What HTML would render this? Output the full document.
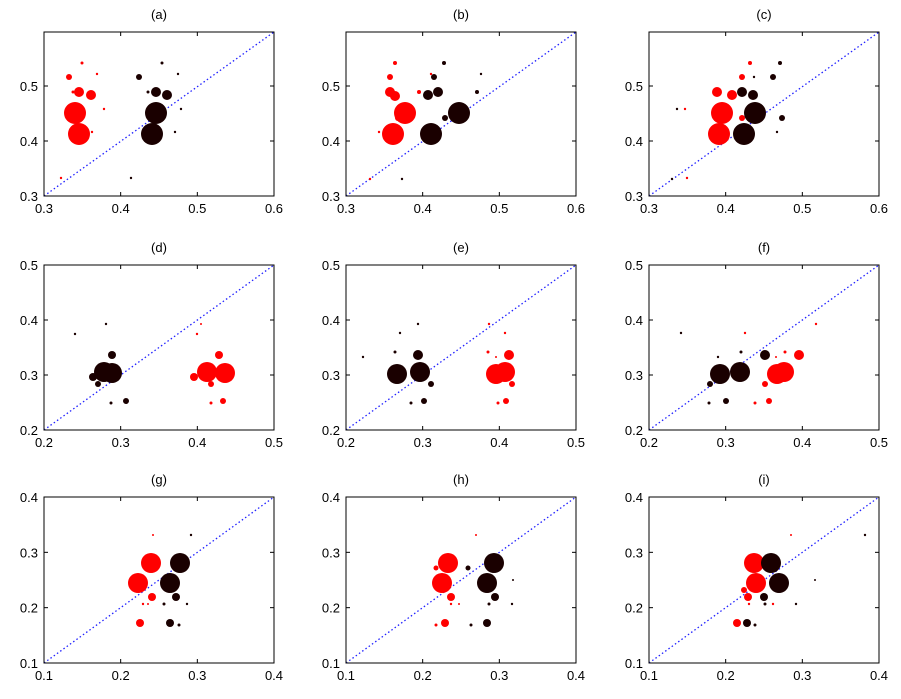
<!DOCTYPE html>
<html><head><meta charset="utf-8"><style>
html,body{margin:0;padding:0;background:#fff}
svg text{font-family:"Liberation Sans",sans-serif;font-size:13px;fill:#000}
</style></head><body>
<svg id="s" xmlns="http://www.w3.org/2000/svg" width="901" height="694" viewBox="0 0 901 694"></svg>
<script>
var s=document.getElementById('s'),h='';
var cols=[44,346,649],rows=[[32,164,0.3],[265,165,0.2],[497,166,0.1]],W=230;
var names='abcdefghi';
rows.forEach(function(r,ri){cols.forEach(function(x0,ci){
 var y0=r[0],H=r[1],v0=r[2],b=y0+H;
 var n=names[ri*3+ci];
 h+='<text x="'+(x0+W/2)+'" y="'+(y0-13)+'" text-anchor="middle">('+n+')</text>';
 h+='<line x1="'+x0+'" y1="'+b+'" x2="'+(x0+W)+'" y2="'+y0+'" stroke="#2020ff" stroke-width="1.3" stroke-dasharray="1.5,2.5"/>';
 h+='<rect x="'+x0+'" y="'+y0+'" width="'+W+'" height="'+H+'" fill="none" stroke="#000" stroke-width="1"/>';
 var ystep=ri==0?55:H/3;
 for(var i=0;i<4;i++){
  var tx=x0+W*i/3, ty=b-ystep*i, lab=(v0+0.1*i).toFixed(1);
  h+='<line x1="'+tx+'" y1="'+b+'" x2="'+tx+'" y2="'+(b-4)+'" stroke="#000"/><line x1="'+tx+'" y1="'+y0+'" x2="'+tx+'" y2="'+(y0+4)+'" stroke="#000"/>';
  h+='<text x="'+tx+'" y="'+(b+17)+'" text-anchor="middle">'+lab+'</text>';
  if(ty>=y0+1||ri>0){
   h+='<line x1="'+x0+'" y1="'+ty+'" x2="'+(x0+4)+'" y2="'+ty+'" stroke="#000"/><line x1="'+(x0+W)+'" y1="'+ty+'" x2="'+(x0+W-4)+'" y2="'+ty+'" stroke="#000"/>';
   h+='<text x="'+(x0-6)+'" y="'+(ty+5)+'" text-anchor="end">'+lab+'</text>';
  }
 }
});});
var R=[
[69,77,3],[82,63,1.5],[97,74,1.2],[79,92,5],[91,95,5],[75,113,11],[79,134,11],[73,92,1.5],[104,109,1.2],[92,132,1.2],[61,178,1.2],
[395,63,2],[390,77,3],[390,92,5],[395,96,5],[405,113,11],[393,134,11],[379,132,1.2],[370,179,1.2],[419,92,2],[431,74,1.2],[398,118,3],
[750,63,2],[742,77,3],[717,92,5],[732,95,5],[722,113,11],[719,134,11],[742,118,3],[736,132,1.2],[685,109,1.2],[687,178,1.2],
[197,334,1.2],[201,324,1],[219,355,4],[194,377,4],[211,384,3],[207,372,10],[225,373,10],[211,403,1.5],[223,401,3],
[489,324,1.2],[505,333,1.2],[488,352,1.5],[496,357,1],[509,355,5],[496,374,10],[505,372,10],[512,384,3],[498,403,1.5],[506,401,3],
[816,324,1.2],[745,333,1.2],[776,357,1],[785,352,1.5],[799,355,5],[777,374,10],[784,372,10],[765,384,3],[755,403,1.5],[769,401,3],
[153,535,1],[151,563,10],[138,583,10],[152,597,4],[143,604,1.2],[148,604,1],[140,623,4],
[476,535,1],[448,563,10],[436,568,2.5],[442,583,10],[451,597,4],[451,604,1.2],[459,604,1],[445,623,4],[436,625,1.5],
[791,535,1],[754,563,10],[756,583,10],[744,590,3],[748,597,4],[749,604,1.2],[773,604,1.2],[737,623,4]];
var B=[
[139,77,3],[162,63,1.5],[178,74,1.2],[156,92,5],[167,95,5],[156,113,11],[152,134,11],[148,92,1.5],[181,109,1.2],[175,132,1.2],[131,178,1.2],
[444,63,2],[434,77,3],[428,95,5],[438,92,5],[459,113,11],[431,134,11],[445,118,3],[481,74,1.2],[477,92,2],[402,179,1.2],
[780,63,2],[754,77,1.2],[773,77,3],[742,92,5],[753,95,5],[755,113,11],[744,134,11],[782,118,3],[777,132,1.2],[677,109,1.2],[672,179,1.2],
[75,334,1.2],[106,324,1.2],[112,355,4],[93,377,4],[98,384,3],[104,372,10],[112,373,10],[111,403,1.5],[126,401,3],
[363,357,1.2],[400,333,1.2],[418,324,1.2],[395,352,1.5],[418,355,5],[397,374,10],[420,372,10],[431,384,3],[411,403,1.5],[424,401,3],
[681,333,1.2],[718,357,1.2],[741,352,1.5],[765,355,5],[720,374,10],[740,372,10],[710,384,3],[709,403,1.5],[726,401,3],
[191,535,1.2],[180,563,10],[170,583,10],[176,597,4],[164,604,1.5],[187,604,1.2],[170,623,4],[179,625,1.5],
[494,563,10],[468,568,2.5],[487,583,10],[513,580,1],[495,597,4],[489,604,1.5],[512,604,1.2],[487,623,4],[471,625,1.5],
[865,535,1.2],[771,563,10],[779,583,10],[815,580,1],[764,597,4],[765,604,1.5],[796,604,1.2],[747,623,4],[755,625,1.5]];
R.forEach(function(c){h+='<circle cx="'+c[0]+'" cy="'+c[1]+'" r="'+c[2]+'" fill="#ff0000"/>';});
B.forEach(function(c){h+='<circle cx="'+c[0]+'" cy="'+c[1]+'" r="'+c[2]+'" fill="#1a0000"/>';});
s.innerHTML=h;
</script>
</body></html>
